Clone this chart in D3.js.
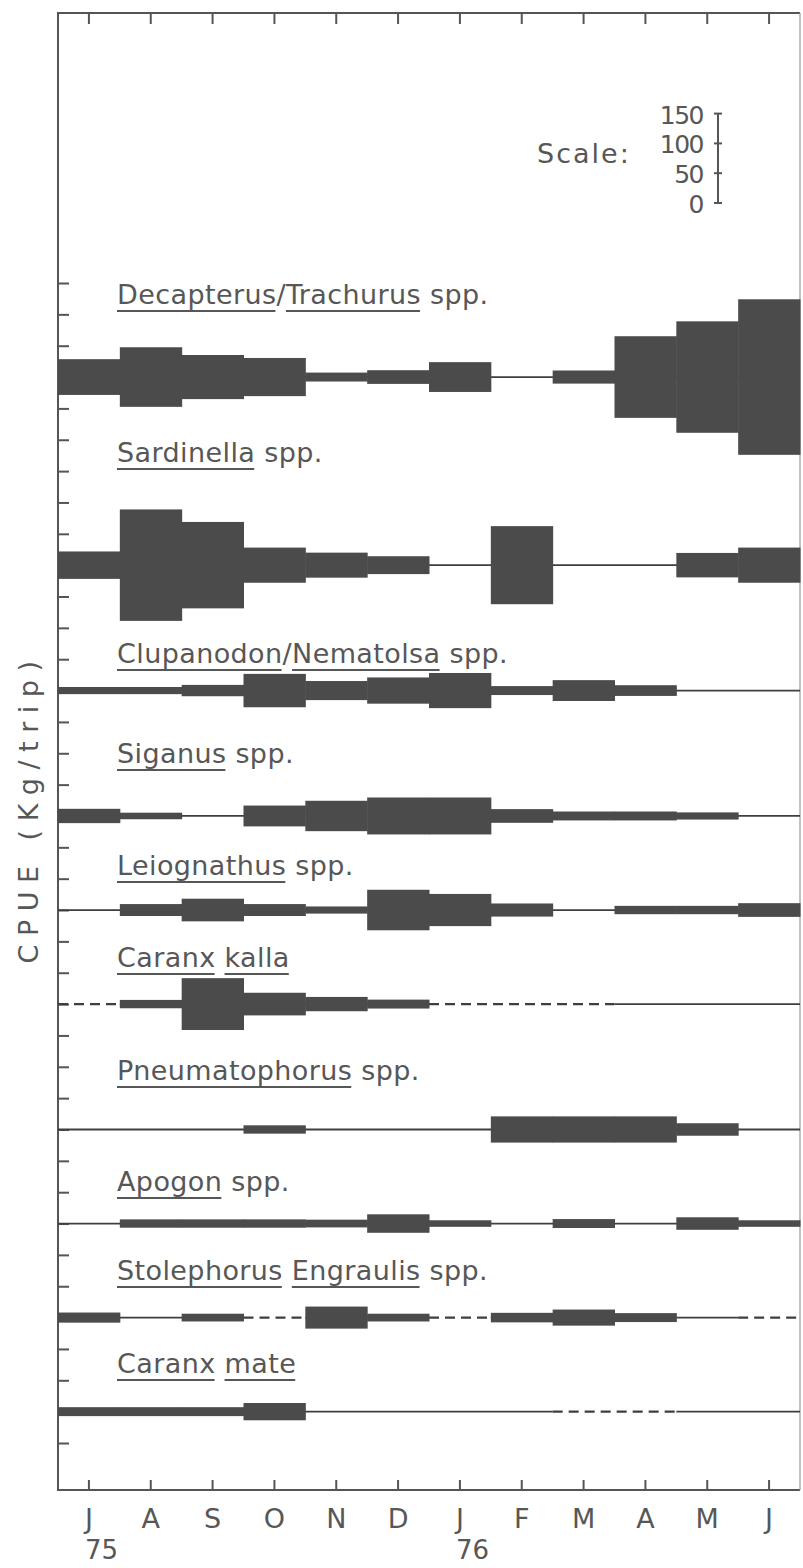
<!DOCTYPE html>
<html><head><meta charset="utf-8">
<script src="https://cdn.jsdelivr.net/npm/d3@7"></script>
<style>
body{margin:0;background:#fff}
svg{display:block}
text{font-family:"DejaVu Sans",sans-serif}
</style>
</head><body><div id="chart"></div>
<script>
// ---------------- DATA ----------------
const months = ["J","A","S","O","N","D","J","F","M","A","M","J"];
const yearLabels = ["75","76"];
const yearStartMonth = [0, 6];
const yAxisTitle = "CPUE (Kg/trip)";
const scaleTitle = "Scale:";
const scaleTicks = [0, 50, 100, 150];

// label parts: [text, underlined?]
const speciesLabels = [
  [["Decapterus",1],["/",0],["Trachurus",1],[" spp.",0]],
  [["Sardinella",1],[" spp.",0]],
  [["Clupanodon",1],["/",0],["Nematolsa",1],[" spp.",0]],
  [["Siganus",1],[" spp.",0]],
  [["Leiognathus",1],[" spp.",0]],
  [["Caranx",1],[" ",0],["kalla",1]],
  [["Pneumatophorus",1],[" spp.",0]],
  [["Apogon",1],[" spp.",0]],
  [["Stolephorus",1],[" ",0],["Engraulis",1],[" spp.",0]],
  [["Caranx",1],[" ",0],["mate",1]]
];

// CPUE (kg/trip) per month, Jul 1975 - Jun 1976; null = no data (dashed)
const decapterus     = [60, 100, 74, 64, 15, 23, 50, 0, 22, 137, 187, 261];
const sardinella     = [46, 187, 145, 59, 42, 30, 0, 131, 0, 0, 41, 59];
const clupanodon     = [12, 12, 19, 56, 32, 44, 59, 15, 35, 18, 0, 0];
const siganus        = [24, 11, 0, 35, 51, 62, 62, 23, 15, 15, 12, 0];
const leiognathus    = [0, 20, 38, 20, 12, 68, 54, 22, 0, 14, 14, 23];
const caranxKalla    = [null, 14, 87, 38, 24, 15, null, null, null, 0, 0, 0];
const pneumatophorus = [0, 0, 0, 14, 0, 0, 0, 44, 44, 44, 21, 0];
const apogon         = [0, 14, 14, 14, 13, 31, 11, 0, 15, 0, 21, 11];
const stolephorus    = [17, 0, 13, null, 37, 13, null, 16, 27, 15, 0, null];
const caranxMate     = [15, 15, 15, 29, 0, 0, 0, 0, null, null, 0, 0];

const seriesList = [decapterus, sardinella, clupanodon, siganus, leiognathus,
                    caranxKalla, pneumatophorus, apogon, stolephorus, caranxMate];

// ---------------- LAYOUT ----------------
const W = 803, H = 1568;
const frame = {left: 58, right: 800, top: 13, bottom: 1490};
const rowTick   = [3, 9, 13, 17, 20, 23, 27, 30, 33, 36];
const labelTick = [0.67, 5.71, 12.12, 15.31, 18.88, 21.82, 25.42, 28.96, 31.8, 34.77];
const ink = "#4b4b4b", lineInk = "#3e3e3e", textInk = "#575757", axisInk = "#555";

const svg = d3.select("#chart").append("svg").attr("width", W).attr("height", H);

const x = d3.scaleBand().domain(d3.range(months.length)).range([frame.left, frame.right]);
const bw = x.bandwidth();
const yTick = d3.scaleLinear().domain([0, 37]).range([283, 1443]);
const wScale = d3.scaleLinear().domain([0, 150]).range([0, 89.4]);

// frame
svg.append("path")
  .attr("d", `M${frame.right},${frame.top}H${frame.left}V${frame.bottom}H${frame.right}`)
  .attr("fill", "none").attr("stroke", axisInk).attr("stroke-width", 2);
svg.append("line").attr("x1", frame.right).attr("x2", frame.right)
  .attr("y1", frame.top).attr("y2", frame.bottom)
  .attr("stroke", "#999").attr("stroke-width", 1.2);

// top ticks
const topAx = svg.append("g").attr("transform", `translate(0,${frame.top})`)
  .call(d3.axisBottom(x).tickSize(11).tickFormat(""));
topAx.select(".domain").remove();

// left ticks
const leftAx = svg.append("g").attr("transform", `translate(${frame.left},0)`)
  .call(d3.axisRight(yTick).tickValues(d3.range(38)).tickSize(11).tickFormat(""));
leftAx.select(".domain").remove();

// bottom axis with month labels
const botAx = svg.append("g").attr("transform", `translate(0,${frame.bottom})`)
  .call(d3.axisBottom(x).tickSizeInner(-10).tickSizeOuter(0).tickPadding(19)
        .tickFormat(i => months[i]));
botAx.select(".domain").remove();
botAx.selectAll("text").attr("font-size", 27).attr("fill", textInk)
  .attr("font-family", "DejaVu Sans, sans-serif");

[topAx, leftAx, botAx].forEach(g => g.attr("color", axisInk)
  .selectAll("line").attr("stroke-width", 2));

// year labels
svg.append("g").selectAll("text").data(yearLabels).join("text")
  .attr("x", (d, i) => x(yearStartMonth[i]) + bw / 2 - 4)
  .attr("y", 1559)
  .attr("font-size", 26).attr("fill", textInk)
  .text(d => d);

// y axis title
svg.append("text")
  .attr("transform", "translate(38,808) rotate(-90)")
  .attr("text-anchor", "middle")
  .attr("font-size", 27).attr("letter-spacing", 8.5).attr("fill", textInk)
  .text(yAxisTitle);

// scale bar
const sbX = 718, sbY0 = 203;
const sb = svg.append("g");
sb.append("line").attr("x1", sbX).attr("x2", sbX)
  .attr("y1", sbY0 - wScale(0)).attr("y2", sbY0 - wScale(150))
  .attr("stroke", axisInk).attr("stroke-width", 2);
sb.selectAll("line.t").data(scaleTicks).join("line").attr("class", "t")
  .attr("x1", sbX - 4).attr("x2", sbX + 4)
  .attr("y1", d => sbY0 - wScale(d)).attr("y2", d => sbY0 - wScale(d))
  .attr("stroke", axisInk).attr("stroke-width", 2);
sb.selectAll("text").data(scaleTicks).join("text")
  .attr("x", 703).attr("y", d => sbY0 - wScale(d) + 10)
  .attr("text-anchor", "end").attr("font-size", 25).attr("letter-spacing", -1.5)
  .attr("fill", textInk).text(d => d);
svg.append("text").attr("x", 537).attr("y", 163)
  .attr("font-size", 27).attr("letter-spacing", 2).attr("fill", textInk).text(scaleTitle);

// kites
seriesList.forEach((vals, r) => {
  const cy = yTick(rowTick[r]);
  const g = svg.append("g");
  const runs = [];
  vals.forEach((v, i) => {
    const type = v === null ? "dash" : "solid";
    const last = runs[runs.length - 1];
    if (last && last.type === type) last.end = i;
    else runs.push({type, start: i, end: i});
  });
  g.selectAll("line").data(runs).join("line")
    .attr("x1", d => x(d.start)).attr("x2", d => x(d.end) + bw)
    .attr("y1", cy).attr("y2", cy)
    .attr("stroke", lineInk)
    .attr("stroke-width", d => d.type === "dash" ? 2.2 : 1.8)
    .attr("stroke-dasharray", d => d.type === "dash" ? "10,6" : null);
  g.selectAll("rect").data(vals.map((v, i) => ({v, i})).filter(d => d.v > 0)).join("rect")
    .attr("x", d => x(d.i)).attr("width", bw + 0.5)
    .attr("y", d => cy - wScale(d.v) / 2).attr("height", d => wScale(d.v))
    .attr("fill", ink);
});

// species labels with underlines
speciesLabels.forEach((parts, r) => {
  const by = yTick(labelTick[r]);
  const t = svg.append("text").attr("x", 117).attr("y", by)
    .attr("font-size", 27).attr("letter-spacing", 0.4).attr("fill", textInk);
  let idx = 0; const spans = [];
  parts.forEach(([s, u]) => {
    t.append("tspan").text(s);
    if (u) spans.push([idx, s.length]);
    idx += s.length;
  });
  const node = t.node();
  spans.forEach(([a, n]) => {
    const x0 = node.getStartPositionOfChar(a).x;
    const x1 = node.getEndPositionOfChar(a + n - 1).x;
    svg.append("line").attr("x1", x0).attr("x2", x1 - 1)
      .attr("y1", by + 7).attr("y2", by + 7)
      .attr("stroke", textInk).attr("stroke-width", 2);
  });
});
</script>
</body></html>
